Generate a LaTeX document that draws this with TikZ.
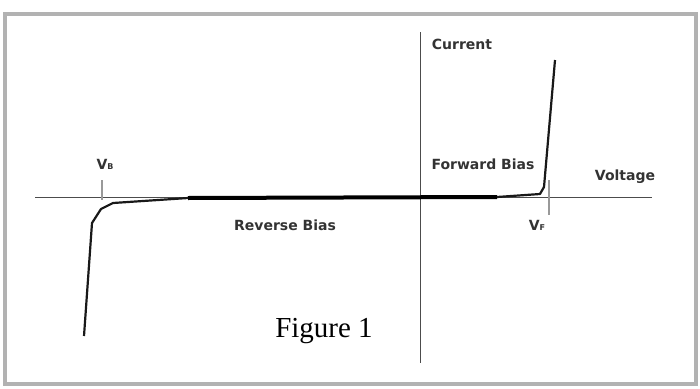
\documentclass[tikz,border=0pt]{standalone}
\usepackage{fontspec}
\setmainfont{Liberation Serif}
\newfontfamily\lblfont{DejaVu Sans}

\begin{document}
\begin{tikzpicture}
  [x=1pt, y=-1pt,
    Frame/.style={draw=gray!60, line width=4pt},
    Axis/.style={draw=black!70, line width=0.9pt},
    Tick/.style={draw=gray!80, line width=1.2pt},
    Curve/.style={draw=black!90, line width=2.2pt, line join=round},
    CurveBold/.style={draw=black, line width=4pt},
    AxisLabel/.style={font=\lblfont\bfseries\fontsize{14}{14}\selectfont, text=black!80, inner sep=0pt},
    CaptionLabel/.style={font=\fontsize{29}{29}\selectfont, inner sep=0pt}]
    \useasboundingbox (0,0) rectangle (700,388);
    \fill[white] (0,0) rectangle (700,388);
    \draw[Frame] (5,14) rectangle (696,384);
    % axes
    \coordinate (VTop) at (420,32);
    \coordinate (VBot) at (420,363);
    \coordinate (HLeft) at (35,197);
    \coordinate (HRight) at (652,197);
    \draw[Axis] (VTop) -- (VBot);
    \draw[Axis] (HLeft) -- (HRight);
    % ticks
    \coordinate (BTickTop) at (102,180);
    \coordinate (BTickBot) at (102,200);
    \coordinate (FTickTop) at (549,180);
    \coordinate (FTickBot) at (549,215);
    \draw[Tick] (BTickTop) -- (BTickBot);
    \draw[Tick] (FTickTop) -- (FTickBot);
    % curve
    \coordinate (C1) at (84,336);
    \coordinate (C2) at (92,223);
    \coordinate (C3) at (101,209);
    \coordinate (C4) at (113,203);
    \coordinate (C5) at (188,198);
    \coordinate (C6) at (497,197);
    \coordinate (C7) at (540,194);
    \coordinate (C8) at (544,187);
    \coordinate (C9) at (555,60);
    \draw[Curve] (C1) -- (C2) -- (C3) -- (C4) -- (C5);
    \draw[CurveBold] (C5) -- (C6);
    \draw[Curve] (C6) -- (C7) -- (C8) -- (C9);
    % labels
    \node[AxisLabel] (current) at (462,44) {Current};
    \node[AxisLabel] (voltage) at (625,177) {Voltage};
    \node[AxisLabel] (fwd) at (483,164) {Forward Bias};
    \node[AxisLabel] (rev) at (285,225) {Reverse Bias};
    \node[AxisLabel] (vb) at (105,164) {V{\fontsize{8}{8}\selectfont B}};
    \node[AxisLabel] (vf) at (537,225) {V{\fontsize{8}{8}\selectfont F}};
    \node[CaptionLabel] (fig) at (324,331) {Figure 1};
\end{tikzpicture}
\end{document}
